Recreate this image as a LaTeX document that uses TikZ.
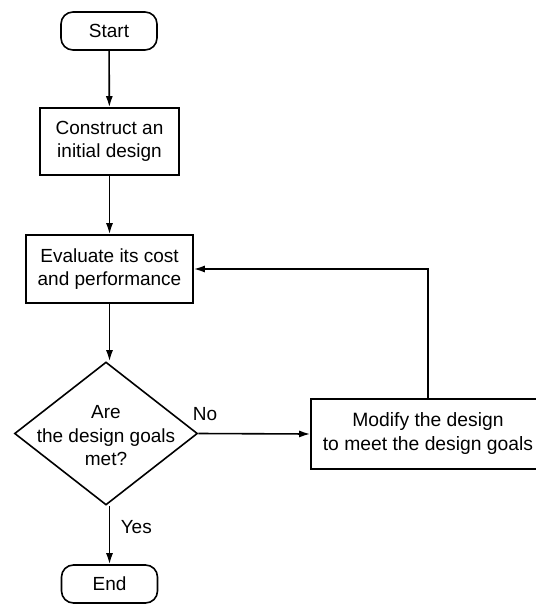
\documentclass[tikz,border=0pt]{standalone}
\usepackage{fontspec}
\setmainfont{Liberation Sans}
\usetikzlibrary{shapes.geometric,arrows.meta}
\begin{document}
\begin{tikzpicture}[x=1pt,y=-1pt,
  line width=1.6pt,
  txt/.style={font=\fontsize{19}{23.5}\selectfont, align=center},
  term/.style={draw, rounded corners=12pt, minimum width=96pt, minimum height=38pt, inner sep=0pt, txt},
  proc/.style={draw, inner sep=0pt, txt},
  dec/.style={draw, diamond, inner sep=0pt, minimum width=183pt, minimum height=143pt},
  lbl/.style={font=\fontsize{19}{23.5}\selectfont, inner sep=0pt},
  arr/.style={-{Latex[length=11pt,width=7pt]}}
]
\useasboundingbox (0,0) rectangle (535,604);
\node[term] (start) at (109,31) {Start};
\node[proc, minimum width=139pt, minimum height=67pt] (construct) at (109.5,141.5) {Construct an\\initial design};
\node[proc, minimum width=167pt, minimum height=68pt] (eval) at (109.5,269) {Evaluate its cost\\and performance};
\node[dec] (dec) at (106,433.5) {};
\node[txt, inner sep=0pt] (dectext) at (106,436) {Are\\the design goals\\met?};
\node[proc, minimum width=234pt, minimum height=70pt, font=\fontsize{19.3}{24}\selectfont] (modify) at (428,434) {Modify the design\\to meet the design goals};
\node[term] (end) at (109.5,584) {End};
\coordinate (corner) at (modify.north |- eval.east);
\draw[arr] (start) -- (construct);
\draw[arr] (construct) -- (eval);
\draw[arr] (eval.south) -- (eval.south |- dec.north);
\draw[arr] (dec.south -| end.north) -- (end.north);
\draw[arr] (dec.east) -- (modify.west);
\draw[arr] (modify.north) -- (corner) -- (eval.east);
\node[lbl] (no) at (205,414) {No};
\node[lbl, anchor=west] (yes) at (120,527) {Yes};
\end{tikzpicture}
\end{document}
